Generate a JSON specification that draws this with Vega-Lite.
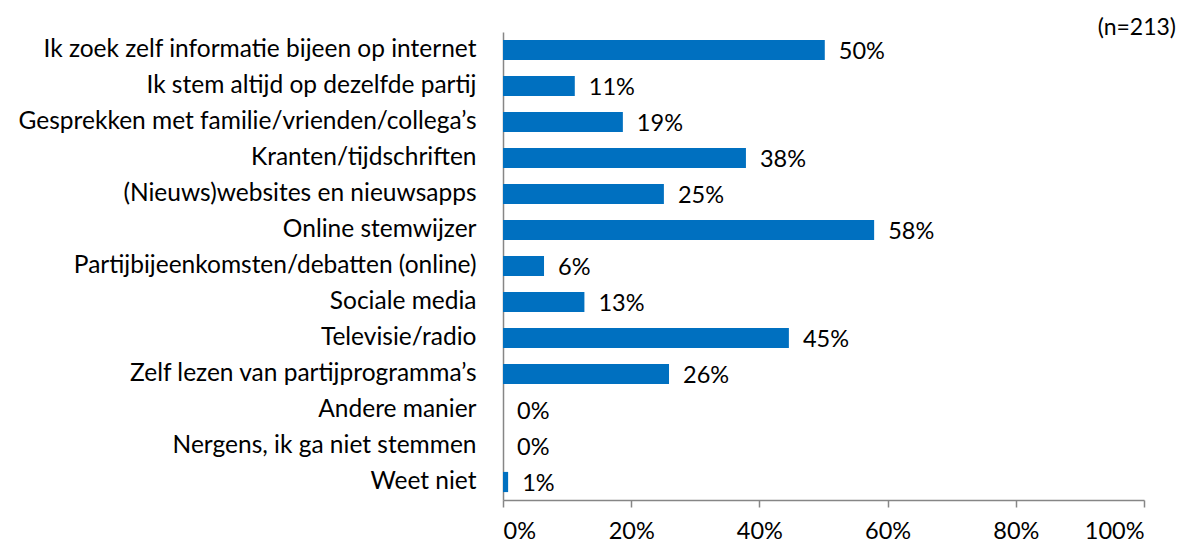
{
  "$schema": "https://vega.github.io/schema/vega-lite/v6.json",
  "autosize": {"type": "none"},
  "padding": {"left": 503, "top": 32, "right": 40, "bottom": 42},
  "width": 641,
  "height": 468,
  "background": "white",
  "config": {"view": {"stroke": null}},
  "title": {"text": "(n=213)", "anchor": "end", "frame": "group", "dx": 32, "offset": -19, "fontSize": 23, "fontWeight": "normal", "font": "Lato", "color": "#000000", "baseline": "middle"},
  "data": {"values": [
    {"cat": "Ik zoek zelf informatie bijeen op internet", "v": 0.502},
    {"cat": "Ik stem altijd op dezelfde partij", "v": 0.112},
    {"cat": "Gesprekken met familie/vrienden/collega’s", "v": 0.187},
    {"cat": "Kranten/tijdschriften", "v": 0.379},
    {"cat": "(Nieuws)websites en nieuwsapps", "v": 0.251},
    {"cat": "Online stemwijzer", "v": 0.579},
    {"cat": "Partijbijeenkomsten/debatten (online)", "v": 0.064},
    {"cat": "Sociale media", "v": 0.127},
    {"cat": "Televisie/radio", "v": 0.446},
    {"cat": "Zelf lezen van partijprogramma’s", "v": 0.259},
    {"cat": "Andere manier", "v": 0.0},
    {"cat": "Nergens, ik ga niet stemmen", "v": 0.0},
    {"cat": "Weet niet", "v": 0.008}
  ]},
  "encoding": {
    "y": {"field": "cat", "type": "nominal", "sort": null, "title": null,
      "scale": {"paddingInner": 0.44, "paddingOuter": 0.22},
      "axis": {"labelFont": "Lato", "labelFontSize": 24.5, "labelColor": "#000000", "labelPadding": 27, "ticks": false, "domainColor": "#868686", "domainWidth": 1.5, "labelLimit": 600}},
    "x": {"field": "v", "type": "quantitative", "title": null,
      "scale": {"domain": [0, 1], "nice": false},
      "axis": {"format": ".0%", "values": [0, 0.2, 0.4, 0.6, 0.8, 1], "grid": false, "labelFont": "Lato", "labelFontSize": 23.5, "labelColor": "#000000", "labelPadding": 12, "tickSize": 7, "tickColor": "#868686", "domainColor": "#868686", "domainWidth": 1.5, "tickWidth": 1.5}}
  },
  "layer": [
    {"mark": {"type": "bar", "color": "#0070C0"}},
    {"mark": {"type": "text", "align": "left", "dx": 14, "dy": 2, "font": "Lato", "fontSize": 23.5, "color": "#000000"},
     "encoding": {"text": {"field": "v", "type": "quantitative", "format": ".0%"}}}
  ]
}
